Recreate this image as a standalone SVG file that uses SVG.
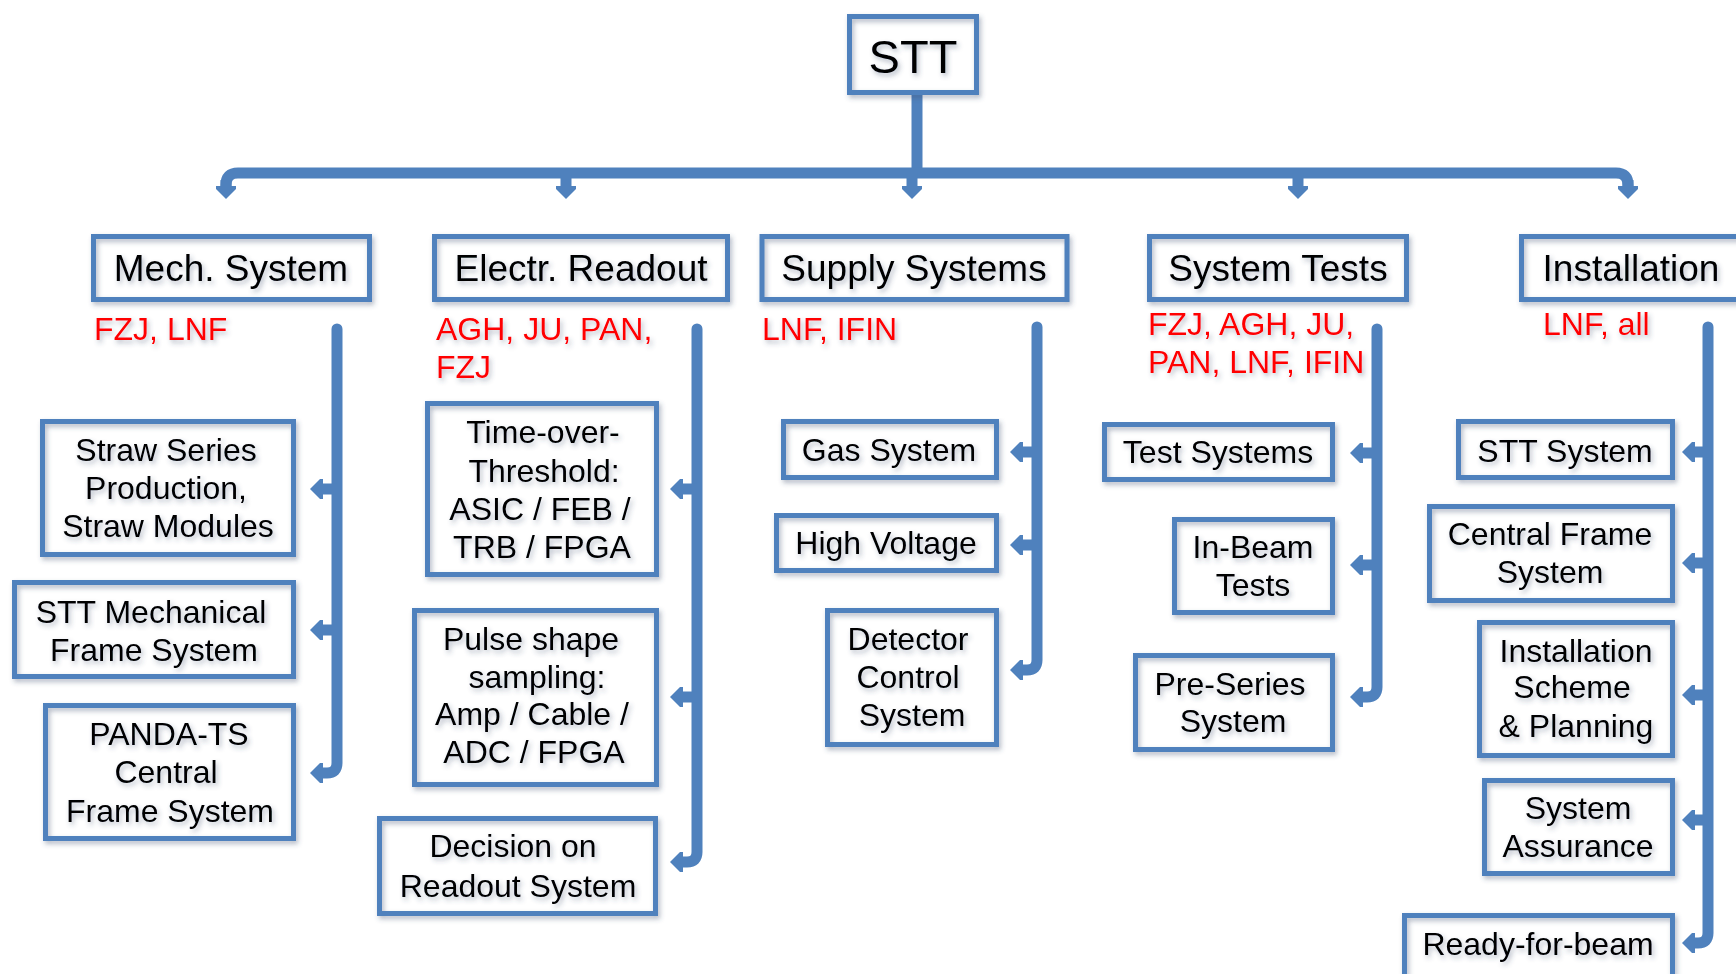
<svg xmlns="http://www.w3.org/2000/svg" width="1736" height="974" viewBox="0 0 1736 974">
<defs>
<filter id="sh" x="-10%" y="-10%" width="130%" height="140%">
<feGaussianBlur in="SourceAlpha" stdDeviation="2.5" result="b"/>
<feOffset in="b" dx="2" dy="3" result="o"/>
<feFlood flood-color="#3a4a6a" flood-opacity="0.38"/>
<feComposite in2="o" operator="in" result="s"/>
<feMerge><feMergeNode in="s"/><feMergeNode in="SourceGraphic"/></feMerge>
</filter>
<marker id="ah" markerUnits="userSpaceOnUse" viewBox="0 -11 14 22" markerWidth="14" markerHeight="22" refX="1" refY="0" orient="auto">
<path d="M0,-10 L3,-10 L13,0 L3,10 L0,10 Z" fill="#4F81BD"/>
</marker>
</defs>
<style>
.box{fill:none;stroke:#4F81BD;stroke-width:5}
.t{font-family:"Liberation Sans",Arial,sans-serif;fill:#000;text-anchor:middle}
.h{font-size:37px}
.c{font-size:32px}
.r{font-family:"Liberation Sans",Arial,sans-serif;fill:#FF0000;font-size:32px}
.n{filter:url(#sh)}
.cn{fill:none;stroke:#4F81BD;stroke-width:11}
</style>
<rect width="1736" height="974" fill="#fff"/>

<g id="connectors">
<path class="cn" d="M917,95 V173"/>
<path class="cn" d="M226,186 V185 Q226,173 238,173 H1616 Q1628,173 1628,185 V186"/>
<path class="cn" d="M226,180 V187" marker-end="url(#ah)"/>
<path class="cn" d="M1628,180 V187" marker-end="url(#ah)"/>
<path class="cn" d="M566,173 V187" marker-end="url(#ah)"/>
<path class="cn" d="M912,173 V187" marker-end="url(#ah)"/>
<path class="cn" d="M1298,173 V187" marker-end="url(#ah)"/>

<path class="cn" stroke-linecap="round" d="M337,329 V763 Q337,773 327,773 H322" marker-end="url(#ah)"/>
<path class="cn" d="M337,489 H322" marker-end="url(#ah)"/>
<path class="cn" d="M337,630 H322" marker-end="url(#ah)"/>

<path class="cn" stroke-linecap="round" d="M697,329 V852 Q697,862 687,862 H682" marker-end="url(#ah)"/>
<path class="cn" d="M697,489 H682" marker-end="url(#ah)"/>
<path class="cn" d="M697,697 H682" marker-end="url(#ah)"/>

<path class="cn" stroke-linecap="round" d="M1037,327 V660 Q1037,670 1027,670 H1022" marker-end="url(#ah)"/>
<path class="cn" d="M1037,452 H1022" marker-end="url(#ah)"/>
<path class="cn" d="M1037,545 H1022" marker-end="url(#ah)"/>

<path class="cn" stroke-linecap="round" d="M1377,329 V687 Q1377,697 1367,697 H1362" marker-end="url(#ah)"/>
<path class="cn" d="M1377,453 H1362" marker-end="url(#ah)"/>
<path class="cn" d="M1377,565 H1362" marker-end="url(#ah)"/>

<path class="cn" stroke-linecap="round" d="M1708,327 V933 Q1708,943 1698,943 H1694" marker-end="url(#ah)"/>
<path class="cn" d="M1708,452 H1694" marker-end="url(#ah)"/>
<path class="cn" d="M1708,563 H1694" marker-end="url(#ah)"/>
<path class="cn" d="M1708,695 H1694" marker-end="url(#ah)"/>
<path class="cn" d="M1708,820 H1694" marker-end="url(#ah)"/>
</g>

<g id="stt" class="n">
<rect class="box" x="849.5" y="16.5" width="127" height="76"/>
<text class="t" x="913" y="73" font-size="47">STT</text>
</g>

<g id="mech" class="n">
<rect class="box" x="93.5" y="236.5" width="276" height="63"/>
<text class="t h" x="231" y="281">Mech. System</text>
<text class="r" x="94" y="340">FZJ, LNF</text>
</g>
<g id="electr" class="n">
<rect class="box" x="434.5" y="236.5" width="293" height="63"/>
<text class="t h" x="581" y="281">Electr. Readout</text>
<text class="r" x="436" y="340">AGH, JU, PAN,</text>
<text class="r" x="436" y="378">FZJ</text>
</g>
<g id="supply" class="n">
<rect class="box" x="762" y="236.5" width="305" height="63"/>
<text class="t h" x="914" y="281">Supply Systems</text>
<text class="r" x="762" y="340">LNF, IFIN</text>
</g>
<g id="tests" class="n">
<rect class="box" x="1149.5" y="236.5" width="257" height="63"/>
<text class="t h" x="1278" y="281">System Tests</text>
<text class="r" x="1148" y="335">FZJ, AGH, JU,</text>
<text class="r" x="1148" y="373">PAN, LNF, IFIN</text>
</g>
<g id="install" class="n">
<rect class="box" x="1521.5" y="236.5" width="230" height="63"/>
<text class="t h" x="1631" y="281">Installation</text>
<text class="r" x="1543" y="335">LNF, all</text>
</g>

<g id="straw" class="n">
<rect class="box" x="42.5" y="421.5" width="251" height="133"/>
<text class="t c" x="166" y="461">Straw Series</text>
<text class="t c" x="166" y="499">Production,</text>
<text class="t c" x="168" y="537">Straw Modules</text>
</g>
<g id="sttmech" class="n">
<rect class="box" x="14.5" y="582.5" width="279" height="94"/>
<text class="t c" x="151" y="623">STT Mechanical</text>
<text class="t c" x="154" y="661">Frame System</text>
</g>
<g id="panda" class="n">
<rect class="box" x="45.5" y="705.5" width="248" height="133"/>
<text class="t c" x="169" y="745">PANDA-TS</text>
<text class="t c" x="166" y="783">Central</text>
<text class="t c" x="170" y="822">Frame System</text>
</g>

<g id="tot" class="n">
<rect class="box" x="427.5" y="403.5" width="229" height="171"/>
<text class="t c" x="543" y="443">Time-over-</text>
<text class="t c" x="544" y="482">Threshold:</text>
<text class="t c" x="540" y="520">ASIC / FEB /</text>
<text class="t c" x="542" y="558">TRB / FPGA</text>
</g>
<g id="pulse" class="n">
<rect class="box" x="414.5" y="610.5" width="242" height="174"/>
<text class="t c" x="531" y="650">Pulse shape</text>
<text class="t c" x="537" y="688">sampling:</text>
<text class="t c" x="532" y="725">Amp / Cable /</text>
<text class="t c" x="534" y="763">ADC / FPGA</text>
</g>
<g id="decision" class="n">
<rect class="box" x="379.5" y="818.5" width="276" height="95"/>
<text class="t c" x="513" y="857">Decision on</text>
<text class="t c" x="518" y="897">Readout System</text>
</g>

<g id="gas" class="n">
<rect class="box" x="783.5" y="421.5" width="213" height="56"/>
<text class="t c" x="889" y="461">Gas System</text>
</g>
<g id="hv" class="n">
<rect class="box" x="776.5" y="515.5" width="220" height="55"/>
<text class="t c" x="886" y="554">High Voltage</text>
</g>
<g id="dcs" class="n">
<rect class="box" x="827.5" y="610.5" width="169" height="134"/>
<text class="t c" x="908" y="650">Detector</text>
<text class="t c" x="908" y="688">Control</text>
<text class="t c" x="912" y="726">System</text>
</g>

<g id="testsys" class="n">
<rect class="box" x="1104.5" y="424.5" width="228" height="55"/>
<text class="t c" x="1218" y="463">Test Systems</text>
</g>
<g id="inbeam" class="n">
<rect class="box" x="1174.5" y="519.5" width="158" height="93"/>
<text class="t c" x="1253" y="558">In-Beam</text>
<text class="t c" x="1253" y="596">Tests</text>
</g>
<g id="preseries" class="n">
<rect class="box" x="1135.5" y="655.5" width="197" height="94"/>
<text class="t c" x="1230" y="695">Pre-Series</text>
<text class="t c" x="1233" y="732">System</text>
</g>

<g id="sttsys" class="n">
<rect class="box" x="1458.5" y="421.5" width="214" height="56"/>
<text class="t c" x="1565" y="462">STT System</text>
</g>
<g id="central" class="n">
<rect class="box" x="1429.5" y="506.5" width="243" height="94"/>
<text class="t c" x="1550" y="545">Central Frame</text>
<text class="t c" x="1550" y="583">System</text>
</g>
<g id="scheme" class="n">
<rect class="box" x="1479.5" y="622.5" width="193" height="133"/>
<text class="t c" x="1576" y="662">Installation</text>
<text class="t c" x="1572" y="698">Scheme</text>
<text class="t c" x="1576" y="737">&amp; Planning</text>
</g>
<g id="assurance" class="n">
<rect class="box" x="1484.5" y="780.5" width="188" height="93"/>
<text class="t c" x="1578" y="819">System</text>
<text class="t c" x="1578" y="857">Assurance</text>
</g>
<g id="ready" class="n">
<rect class="box" x="1404.5" y="915.5" width="268" height="70"/>
<text class="t c" x="1538" y="955">Ready-for-beam</text>
</g>
</svg>
